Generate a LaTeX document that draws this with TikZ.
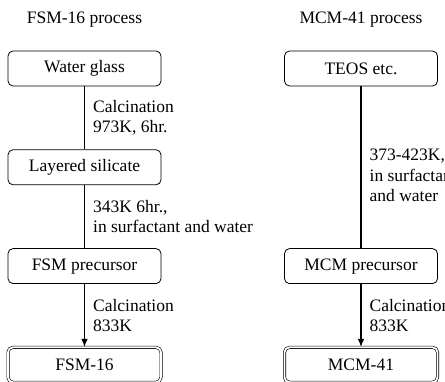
\documentclass[tikz,border=0pt]{standalone}
\usepackage{fontspec}
\setmainfont{Liberation Serif}
\usetikzlibrary{arrows.meta,positioning}

\begin{document}
\begin{tikzpicture}[
  x=1pt,y=-1pt,
  node distance=63pt,
  font=\fontsize{17.5}{20.5}\selectfont,
  box/.style={draw=black,rounded corners=5pt,minimum width=153pt,
    minimum height=35pt,line width=0.8pt,inner sep=2pt},
  product/.style={box,double,double distance=1.8pt,line width=0.6pt},
  cond/.style={right,align=left,inner sep=2pt,xshift=6pt},
  l/.style={line width=1.3pt,color=black},
  a/.style={l,-{Latex[length=8pt,width=6.5pt]}}
]
  \useasboundingbox (0,0) rectangle (445,382);
  \clip (0,0) rectangle (445,382);
  % FSM-16 route
  \node (fsmtitle) at (84.5,20) {FSM-16 process};
  \node[box] (water) at (84.5,68.5) {Water glass};
  \node[box,below=of water] (layered) {Layered silicate};
  \node[box,below=of layered] (fsmpre) {FSM precursor};
  \node[product,below=of fsmpre] (fsm) {FSM-16};
  % MCM-41 route
  \node (mcmtitle) at (361,20) {MCM-41 process};
  \node[box] (teos) at (361,68.5) {TEOS etc.};
  \node[box] (mcmpre) at (teos |- fsmpre) {MCM precursor};
  \node[product] (mcm) at (teos |- fsm) {MCM-41};
  % steps
  \draw[l] (water) -- node[cond] {Calcination\\973K, 6hr.} (layered);
  \draw[l] (layered) -- node[cond] {343K 6hr.,\\in surfactant and water} (fsmpre);
  \draw[a] (fsmpre) -- node[cond] {Calcination\\833K} (fsm);
  \draw[l] (teos) -- node[cond,pos=0.55] {373-423K,\\in surfactant\\and water} (mcmpre);
  \draw[a] (mcmpre) -- node[cond] {Calcination\\833K} (mcm);
\end{tikzpicture}
\end{document}
